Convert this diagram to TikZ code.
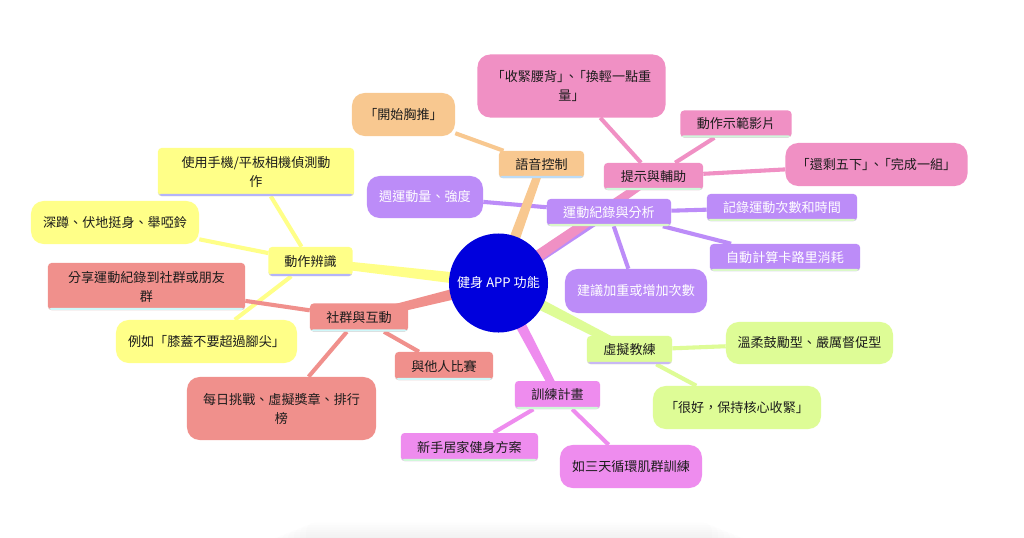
\documentclass[tikz,border=0pt]{standalone}
\usepackage{fontspec}
\setmainfont{Noto Sans CJK TC}
\usepackage{tikz}
\usepackage{xcolor}
\usetikzlibrary{calc,backgrounds}

\definecolor{ink}{HTML}{1C1C1C}
\definecolor{hubblue}{HTML}{0000DD}
\definecolor{yw}{HTML}{FFFF88}
\definecolor{ywline}{HTML}{B4B4FA}
\definecolor{sal}{HTML}{F0908C}
\definecolor{salline}{HTML}{CFF8FA}
\definecolor{vio}{HTML}{EE8CEE}
\definecolor{violine}{HTML}{CFF8D8}
\definecolor{grn}{HTML}{DEFC96}
\definecolor{grnline}{HTML}{C8B8F4}
\definecolor{pur}{HTML}{BC8CF8}
\definecolor{purline}{HTML}{DAF8C8}
\definecolor{pnk}{HTML}{F090C4}
\definecolor{pnkline}{HTML}{CFF8DC}
\definecolor{org}{HTML}{F8C890}
\definecolor{orgline}{HTML}{BCDCF8}

% tapered branch from the hub to a main topic
\newcommand{\mmtrunk}[3]{%
  \fill[#3] ($(#1)!4.3pt!90:(#2)$) -- ($(#2)!2.7pt!-90:(#1)$) -- ($(#2)!2.7pt!90:(#1)$) -- ($(#1)!4.3pt!-90:(#2)$) -- cycle;}
% tight 」、「
\newcommand{\qsep}{」\kern-.4em、\kern-.4em「}

\begin{document}
\begin{tikzpicture}[x=0.025cm,y=-0.025cm,
    every node/.style={font=\fontsize{9.3}{13.5}\selectfont,text=ink,align=center,inner sep=0pt},
    sz/.style 2 args={minimum width=#1*0.7113pt,minimum height=#2*0.7113pt},
    topic/.style 2 args={rounded corners=2.5pt,fill=#1,
        path picture={\fill[#2] ([yshift=1.6pt]path picture bounding box.south west) rectangle (path picture bounding box.south east);}},
    bubble/.style={rounded corners=9pt,fill=#1},
    twig/.style={line width=2.9pt,draw=#1},
    light/.style={text=white}
]
\useasboundingbox (0,0) rectangle (1024,538);

\node[circle,fill=hubblue,light,minimum size=99*0.7113pt] (hub) at (498.5,283) {健身 APP 功能};

% 動作辨識
\node[topic={yw}{ywline},sz={84}{29}] (motion) at (310.5,261.5) {動作辨識};
\node[topic={yw}{ywline},sz={196}{48}] (motioncam) at (256,172) {使用手機/平板相機偵測動\\作};
\node[bubble=yw,sz={168}{43}] (motionlift) at (115,222.5) {深蹲、伏地挺身、舉啞鈴};
\node[bubble=yw,sz={181}{43}] (motiontip) at (206.5,341.5) {例如「膝蓋不要超過腳尖」};

% 社群與互動
\node[topic={sal}{salline},sz={98}{28}] (social) at (359,317.5) {社群與互動};
\node[topic={sal}{salline},sz={197}{47}] (socialshare) at (146.5,286.5) {分享運動紀錄到社群或朋友\\群};
\node[bubble=sal,sz={189}{63}] (socialchal) at (281.5,408.5) {每日挑戰、虛擬獎章、排行\\榜};
\node[topic={sal}{salline},sz={98}{28}] (socialrace) at (444,366) {與他人比賽};

% 訓練計畫
\node[topic={vio}{violine},sz={85}{28}] (plan) at (557.5,395) {訓練計畫};
\node[topic={vio}{violine},sz={137}{28}] (planhome) at (469.5,447) {新手居家健身方案};
\node[bubble=vio,sz={142}{43}] (plancycle) at (631,466.5) {如三天循環肌群訓練};

% 虛擬教練
\node[topic={grn}{grnline},sz={85}{28}] (coach) at (629.5,350) {虛擬教練};
\node[bubble=grn,sz={167}{42}] (coachtype) at (809.5,343) {溫柔鼓勵型、嚴厲督促型};
\node[bubble=grn,sz={168}{43}] (coachsay) at (737,407.5) {「很好，保持核心收緊」};

% 運動紀錄與分析
\node[topic={pur}{purline},light,sz={124}{27}] (record) at (609,212.5) {運動紀錄與分析};
\node[bubble=pur,light,sz={116}{42}] (recordweek) at (425,197) {週運動量、強度};
\node[topic={pur}{purline},light,sz={150}{27}] (recordcount) at (782,207.5) {記錄運動次數和時間};
\node[topic={pur}{purline},light,sz={150}{27}] (recordcal) at (785,257.5) {自動計算卡路里消耗};
\node[bubble=pur,light,sz={142}{44}] (recordadv) at (636,291) {建議加重或增加次數};

% 提示與輔助
\node[topic={pnk}{pnkline},sz={99}{27}] (hint) at (653.5,176.5) {提示與輔助};
\node[bubble=pnk,sz={188}{63}] (hintcue) at (571.5,86) {「收緊腰背\qsep 換輕一點重\\量」};
\node[topic={pnk}{pnkline},sz={111}{27}] (hintvideo) at (736,124) {動作示範影片};
\node[bubble=pnk,sz={182}{43}] (hintcount) at (876.5,164.5) {「還剩五下\qsep 完成一組」};

% 語音控制
\node[topic={org}{orgline},sz={85}{27}] (voice) at (541.5,164.5) {語音控制};
\node[bubble=org,sz={103}{43}] (voicestart) at (403.5,114.5) {「開始胸推」};

\begin{scope}[on background layer]
\fill[white] (0,0) rectangle (1024,538);
\foreach \i in {0,...,6}
    \fill[black,opacity=0.009,rounded corners=6pt] (270+\i*6,537-\i*2.4) rectangle (748-\i*6,545);
\foreach \a/\b/\c in {motion/motioncam/yw,motion/motionlift/yw,motion/motiontip/yw,
    social/socialshare/sal,social/socialchal/sal,social/socialrace/sal,
    plan/planhome/vio,plan/plancycle/vio,
    coach/coachtype/grn,coach/coachsay/grn,
    record/recordweek/pur,record/recordcount/pur,record/recordcal/pur,record/recordadv/pur,
    hint/hintcue/pnk,hint/hintvideo/pnk,hint/hintcount/pnk,
    voice/voicestart/org}
    \draw[twig=\c] (\a) -- (\b);
\foreach \b/\c in {motion/yw,social/sal,plan/vio,coach/grn,voice/org,record/pur,hint/pnk}
    {\mmtrunk{hub}{\b}{\c}}
\end{scope}
\end{tikzpicture}
\end{document}
